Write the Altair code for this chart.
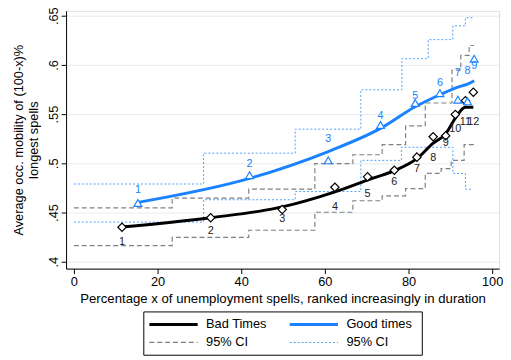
import altair as alt
import pandas as pd

# ---------------- data ----------------
# Bad times: markers (diamonds), numbered labels, fitted line
bad_x = [11.5, 32.7, 49.8, 62.4, 70.2, 76.6, 82.0, 85.9, 88.9, 91.2, 93.6, 95.5]
bad_y = [0.435, 0.4447, 0.453, 0.4757, 0.4863, 0.493, 0.5063, 0.527, 0.528, 0.5497, 0.5637, 0.5723]
bad_labels = [str(i) for i in range(1, 13)]
bad_label_y = [0.4203, 0.4313, 0.443, 0.4557, 0.4687, 0.4813, 0.494, 0.5053, 0.5203, 0.535, 0.542, 0.542]
bad_fit = [0.4353, 0.4447, 0.4557, 0.471, 0.483, 0.4925, 0.5047, 0.5205, 0.530, 0.546, 0.557, 0.557]

# Good times: markers (triangles), numbered labels, fitted line
good_x = [15.3, 42.0, 60.8, 73.3, 81.6, 87.5, 91.8, 94.1, 95.7]
good_y = [0.4597, 0.488, 0.503, 0.539, 0.5613, 0.5713, 0.5647, 0.563, 0.6063]
good_labels = [str(i) for i in range(1, 10)]
good_label_y = [0.473, 0.499, 0.5247, 0.548, 0.568, 0.582, 0.592, 0.5937, 0.599]
good_fit = [0.4603, 0.4847, 0.512, 0.5355, 0.5575, 0.5697, 0.5775, 0.5805, 0.584]

# 95% CI step functions
bad_ci_lo_x = [0, 23.5, 41.8, 57.6, 66.7, 73.7, 79.3, 84.0, 87.8, 90.2, 93.3, 95.6]
bad_ci_lo = [0.4163, 0.4247, 0.432, 0.4503, 0.462, 0.467, 0.4743, 0.4897, 0.4947, 0.503, 0.519, 0.519]
bad_ci_hi_x = [0, 23.5, 41.8, 57.6, 66.7, 73.7, 79.3, 84.0, 90.4, 92.5, 94.5, 95.6]
bad_ci_hi = [0.4547, 0.4647, 0.4737, 0.4997, 0.5087, 0.519, 0.538, 0.5613, 0.5947, 0.6097, 0.6197, 0.6197]

good_ci_lo_x = [0, 31.0, 52.9, 68.6, 78.3, 90.6, 93.6, 95.3]
good_ci_lo = [0.4403, 0.463, 0.4713, 0.503, 0.5163, 0.4897, 0.4737, 0.4737]
good_ci_hi_x = [0, 31.0, 52.9, 68.6, 78.4, 84.7, 90.6, 93.6, 95.3]
good_ci_hi = [0.479, 0.5103, 0.5347, 0.5747, 0.6063, 0.6257, 0.6397, 0.648, 0.648]

x_ticks = [0, 20, 40, 60, 80, 100]
y_ticks = [0.4, 0.45, 0.5, 0.55, 0.6, 0.65]

# ---------------- tables ----------------
bad_pts = pd.DataFrame({"x": bad_x, "y": bad_y, "ly": bad_label_y, "lab": bad_labels, "fit": bad_fit})
good_pts = pd.DataFrame({"x": good_x, "y": good_y, "ly": good_label_y, "lab": good_labels, "fit": good_fit})
bad_ci = pd.concat([
    pd.DataFrame({"x": bad_ci_lo_x, "y": bad_ci_lo, "band": "lo"}),
    pd.DataFrame({"x": bad_ci_hi_x, "y": bad_ci_hi, "band": "hi"}),
])
good_ci = pd.concat([
    pd.DataFrame({"x": good_ci_lo_x, "y": good_ci_lo, "band": "lo"}),
    pd.DataFrame({"x": good_ci_hi_x, "y": good_ci_hi, "band": "hi"}),
])

BLUE = "#1a82ff"
LBLUE = "#4d9fff"
GRAY = "#808080"
FONT = "Liberation Sans"

xs = alt.Scale(domain=[-1.88, 101.65], nice=False, zero=False)
ys = alt.Scale(domain=[0.393, 0.655], nice=False, zero=False)

x_axis = alt.Axis(values=x_ticks, title="Percentage x of unemployment spells, ranked increasingly in duration",
                  grid=False, labelFontSize=13, titleFontSize=13.4, tickSize=5, labelPadding=2, titlePadding=3,
                  domainColor="black", tickColor="black", labelColor="black", titleColor="black",
                  titleFontWeight="normal", labelFlush=False, format="d")
y_axis = alt.Axis(values=y_ticks, labelExpr="substring(format(datum.value, '.2~f'), 1)",
                  title=["Average occ. mobility of (100-x)%", "longest spells"],
                  grid=True, gridColor="#e4ecee", gridWidth=1,
                  labelAngle=270, labelAlign="center", labelBaseline="alphabetic", labelPadding=4,
                  labelFontSize=13, titleFontSize=13, tickSize=5, titlePadding=7,
                  domainColor="black", tickColor="black", labelColor="black", titleColor="black",
                  titleFontWeight="normal", labelFlush=False)

X = alt.X("x:Q", scale=xs, axis=x_axis)

def Y(field):
    return alt.Y(f"{field}:Q", scale=ys, axis=y_axis)

good_ci_layer = alt.Chart(good_ci).mark_line(interpolate="step-after", color=LBLUE, strokeWidth=1,
                                             strokeDash=[2, 2]).encode(X, Y("y"), detail="band:N")
bad_ci_layer = alt.Chart(bad_ci).mark_line(interpolate="step-after", color=GRAY, strokeWidth=1.2,
                                           strokeDash=[5, 3]).encode(X, Y("y"), detail="band:N")
bad_line = alt.Chart(bad_pts).mark_line(interpolate="monotone", color="black", strokeWidth=3).encode(X, Y("fit"))
good_line = alt.Chart(good_pts).mark_line(interpolate="monotone", color=BLUE, strokeWidth=3).encode(X, Y("fit"))
bad_mk = alt.Chart(bad_pts).mark_point(shape="diamond", size=72, fill="white", fillOpacity=1, opacity=1,
                                       stroke="black", strokeWidth=1.2).encode(X, Y("y"))
good_mk = alt.Chart(good_pts).mark_point(shape="triangle-up", size=64, fill="white", fillOpacity=1, opacity=1,
                                         stroke=BLUE, strokeWidth=1.2).encode(X, Y("y"))
bad_txt = alt.Chart(bad_pts).mark_text(fontSize=11, font=FONT, color="#222222", align="center",
                                       baseline="middle").encode(X, Y("ly"), text="lab:N")
good_txt = alt.Chart(good_pts).mark_text(fontSize=11, font=FONT, color=BLUE, align="center",
                                         baseline="middle").encode(X, Y("ly"), text="lab:N")

# ---------------- legend (drawn box) ----------------
one = alt.Data(values=[{"k": 1}])
leg_box = alt.Chart(one).mark_rect(fill="white", stroke="black", strokeWidth=1).encode(
    x=alt.value(79), x2=alt.value(362), y=alt.value(306), y2=alt.value(350))
leg_items = []
entries = [
    (84.7, 318.7, "Bad Times", "black", 3, [1, 0]),
    (227.3, 318.7, "Good times", BLUE, 3, [1, 0]),
    (84.7, 337, "95% CI", GRAY, 1.2, [5, 3]),
    (227.3, 337, "95% CI", LBLUE, 1, [2, 2]),
]
for lx, ly, name, col, sw, dash in entries:
    leg_items.append(alt.Chart(one).mark_rule(color=col, strokeWidth=sw, strokeDash=dash).encode(
        x=alt.value(lx), x2=alt.value(lx + 49), y=alt.value(ly)))
    leg_items.append(alt.Chart(one).mark_text(align="left", baseline="middle", fontSize=13, font=FONT,
                                              color="black").encode(
        x=alt.value(lx + 57.6), y=alt.value(ly), text=alt.value(name)))

chart = alt.layer(good_ci_layer, bad_ci_layer, bad_line, good_line, bad_mk, good_mk, bad_txt, good_txt,
                  leg_box, *leg_items).properties(
    width=440, height=262,
    autosize=alt.AutoSizeParams(type="none"),
    padding={"left": 59, "top": 0, "right": 4, "bottom": 89},
).configure_view(strokeWidth=0).configure(font=FONT)

chart.save("out.html", embed_options={"renderer": "svg", "actions": False})
